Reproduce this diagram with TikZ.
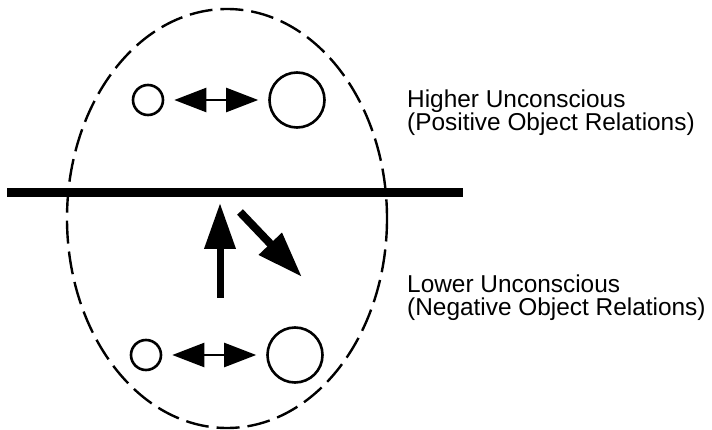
\documentclass[tikz,border=0pt]{standalone}
\usepackage{fontspec}
\setmainfont{Liberation Sans}
\usetikzlibrary{arrows.meta, positioning}
\tikzset{
    selfnode/.style={circle, draw, line width=2.6pt, minimum size=30pt,
                     inner sep=0pt},
    objnode/.style={selfnode, minimum size=55pt},
    relarrow/.style={{Triangle[length=32pt, width=24pt]}-{Triangle[length=32pt, width=24pt]},
                     line width=2.4pt, shorten <=10pt, shorten >=10pt},
    bigarrow/.style={-{Triangle[length=46pt, width=30pt]}, line width=7pt},
    ovalline/.style={line width=2.4pt, dash pattern=on 23pt off 8pt},
    barline/.style={line width=9pt},
    lbltext/.style={font=\fontsize{24.4}{23.3}\selectfont, align=left,
                    anchor=north west, inner sep=0pt},
}

\begin{document}
\begin{tikzpicture}[x=1pt, y=-1pt]
\useasboundingbox (0,0) rectangle (712,430);

% --- the dashed oval and the dividing bar ---
\draw[ovalline] (227,218.5) ellipse [x radius=160, y radius=209.5];
\coordinate (bar-l) at (7,193);
\coordinate (bar-r) at (463,193);
\draw[barline] (bar-l) -- (bar-r);

% --- TOP: higher unconscious ---
\node[selfnode] (hi-self) at (148,100) {};
\node[objnode] (hi-obj) at (297,100) {};
\draw[relarrow] (hi-self) -- (hi-obj);
\node[lbltext] (hi-lbl) at (407,89.4)
    {Higher Unconscious\\(Positive Object Relations)};

% --- BOTTOM: lower unconscious ---
\node[selfnode] (lo-self) at (146,355) {};
\node[objnode] (lo-obj) at (295,355) {};
\draw[relarrow] (lo-self) -- (lo-obj);
\node[lbltext] (lo-lbl) at (407,274.4)
    {Lower Unconscious\\(Negative Object Relations)};

% --- MIDDLE: arrows across the bar ---
\coordinate (up-foot) at (220,298);
\coordinate (up-tip) at (220,203);
\coordinate (dn-foot) at (240,212);
\coordinate (dn-tip) at (302,277);
\draw[bigarrow] (up-foot) -- (up-tip);
\draw[bigarrow, line width=8pt] (dn-foot) -- (dn-tip);
\end{tikzpicture}
\end{document}
